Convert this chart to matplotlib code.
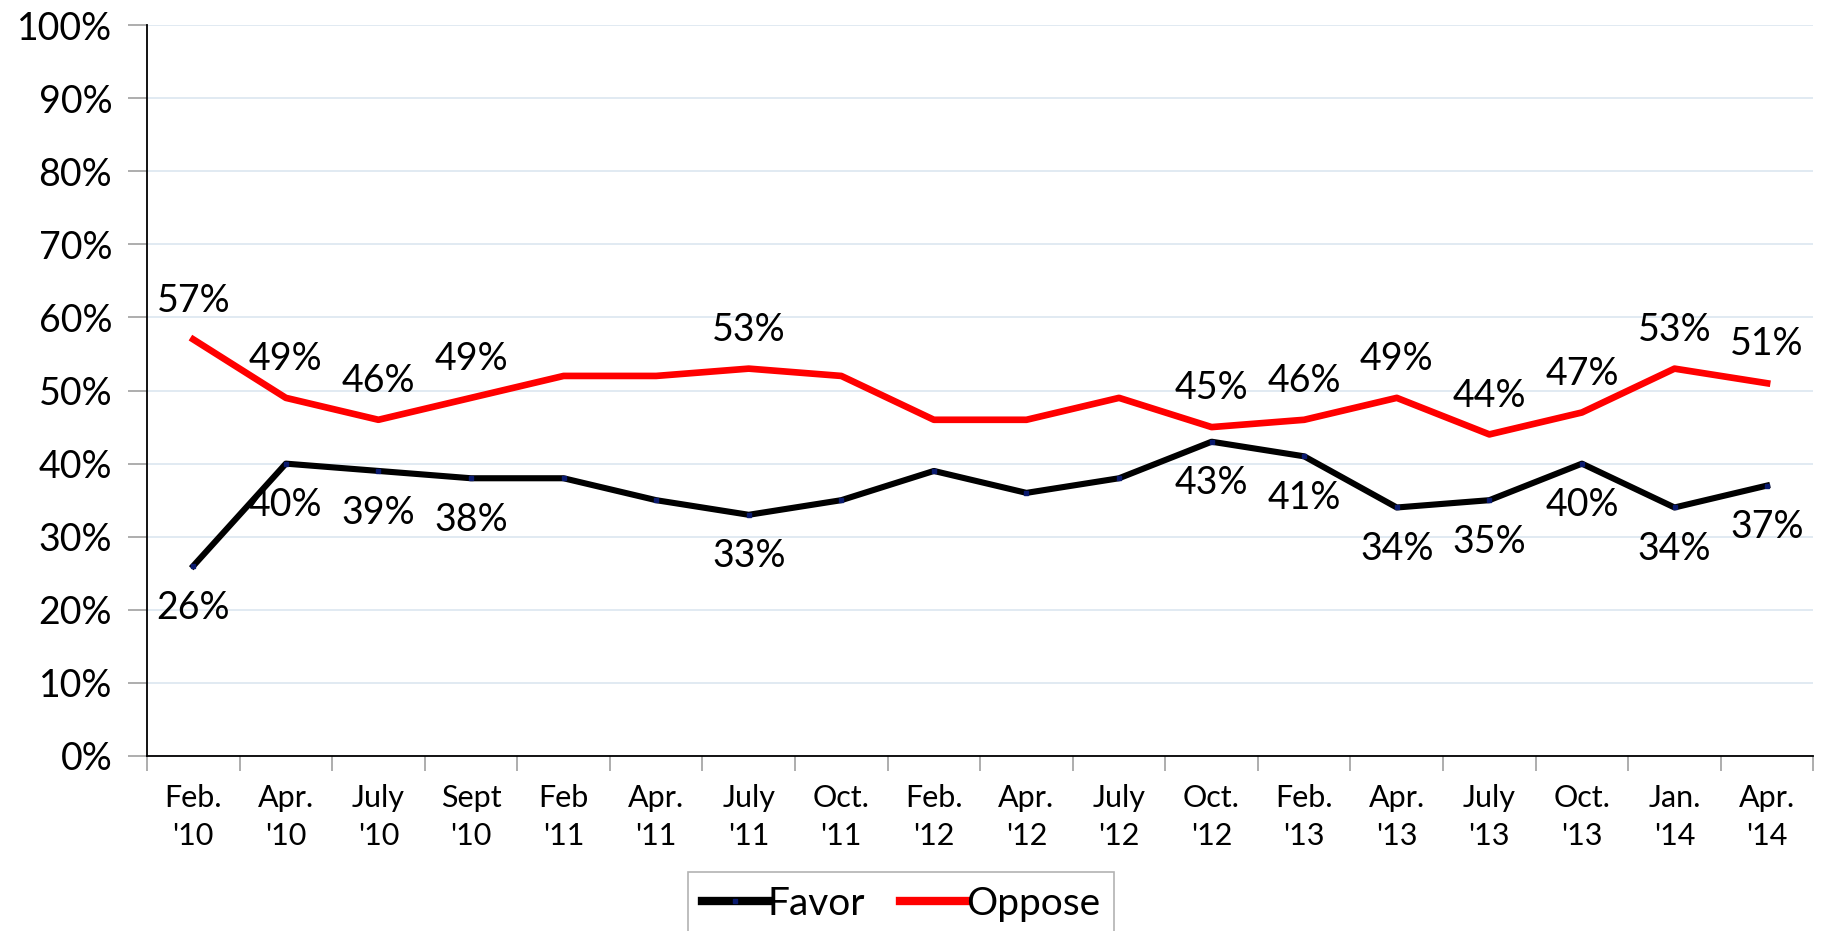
import matplotlib
matplotlib.use("Agg")
import matplotlib.pyplot as plt
from matplotlib.ticker import FuncFormatter, MultipleLocator

# --- data ---
periods = ["Feb.\n'10", "Apr.\n'10", "July\n'10", "Sept\n'10", "Feb\n'11", "Apr.\n'11",
           "July\n'11", "Oct.\n'11", "Feb.\n'12", "Apr.\n'12", "July\n'12", "Oct.\n'12",
           "Feb.\n'13", "Apr.\n'13", "July\n'13", "Oct.\n'13", "Jan.\n'14", "Apr.\n'14"]
favor = [26, 40, 39, 38, 38, 35, 33, 35, 39, 36, 38, 43, 41, 34, 35, 40, 34, 37]
oppose = [57, 49, 46, 49, 52, 52, 53, 52, 46, 46, 49, 45, 46, 49, 44, 47, 53, 51]
labelled = [0, 1, 2, 3, 6, 11, 12, 13, 14, 15, 16, 17]  # points that carry a value label

plt.rcParams["font.family"] = ["Lato", "DejaVu Sans"]

fig = plt.figure(figsize=(18.28, 9.31), dpi=100)
ax = fig.add_axes([0.0804, 0.188, 0.9116, 0.785])

x = list(range(len(periods)))
ax.plot(x, favor, color="black", lw=4.4, marker="s", ms=3.5,
        mfc="#0a1a6e", mec="#0a1a6e", label="Favor", zorder=3)
ax.plot(x, oppose, color="#ff0000", lw=4.8, label="Oppose", zorder=3)

for i in labelled:
    ax.annotate(f"{oppose[i]}%", (x[i], oppose[i]), xytext=(0, 28), textcoords="offset points",
                ha="center", va="center", fontsize=27)
    ax.annotate(f"{favor[i]}%", (x[i], favor[i]), xytext=(0, -30), textcoords="offset points",
                ha="center", va="center", fontsize=27)

ax.set_xlim(-0.5, len(periods) - 0.5)
ax.set_ylim(0, 100)
ax.yaxis.set_major_locator(MultipleLocator(10))
ax.yaxis.set_major_formatter(FuncFormatter(lambda v, _: f"{v:.0f}%"))
ax.set_xticks(x)
ax.set_xticklabels(periods, fontsize=22, linespacing=1.45)
ax.set_xticks([i + 0.5 for i in range(-1, len(periods))], minor=True)
ax.tick_params(axis="x", which="major", length=0, pad=20)
ax.tick_params(axis="x", which="minor", length=11, color="#a0a0a0", width=1.2)
ax.tick_params(axis="y", length=14, color="#a0a0a0", width=1.2, labelsize=27, pad=11)

ax.grid(axis="y", color="#dce6f0", lw=1.2)
ax.set_axisbelow(True)
for s in ("top", "right"):
    ax.spines[s].set_visible(False)
for s in ("left", "bottom"):
    ax.spines[s].set_color("black")
    ax.spines[s].set_linewidth(1.3)

leg = fig.legend(loc="upper center", bbox_to_anchor=(0.493, 0.063), ncol=2, fontsize=28,
                 frameon=True, fancybox=False, edgecolor="#a0a0a0", borderaxespad=0,
                 handlelength=1.7, handletextpad=0.0, columnspacing=0.9, borderpad=0.35)
leg.get_frame().set_linewidth(1.2)
for h in leg.get_lines():
    h.set_linewidth(6)

fig.savefig("out.png", dpi=100)
